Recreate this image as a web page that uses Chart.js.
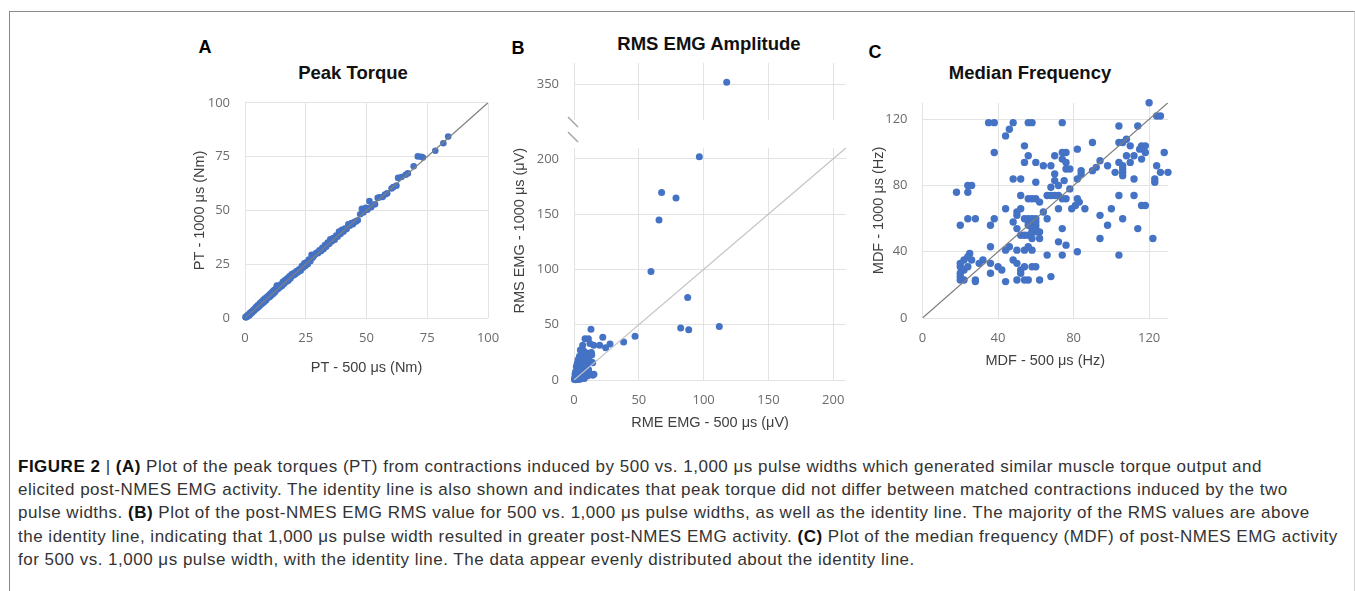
<!DOCTYPE html>
<html>
<head>
<meta charset="utf-8">
<script src="https://cdn.jsdelivr.net/npm/chart.js@4.4.0/dist/chart.umd.min.js"></script>
<style>
body{margin:0;background:#fff;width:1355px;height:591px;overflow:hidden;position:relative;font-family:"Liberation Sans",Arial,sans-serif}
.frame{position:absolute;left:9px;top:11px;width:1344px;height:700px;border-left:1px solid #8a8a8a;border-top:1px solid #8a8a8a;border-right:1px solid #d4d4d4}
canvas{position:absolute}
.lbl{position:absolute;font-weight:bold;font-size:18px;color:#000;transform:translate(-50%,-50%);line-height:1}
.ttl{position:absolute;font-weight:bold;font-size:18.5px;color:#111;white-space:nowrap;transform:translate(-50%,-50%);line-height:1}
.cap{position:absolute;left:18px;top:455px;font-size:17px;letter-spacing:0.5px;line-height:23.2px;color:#333;white-space:nowrap}
.cap b{color:#111}
</style>
</head>
<body>
<div class="frame"></div>

<div class="lbl" style="left:205px;top:47px">A</div>
<div class="lbl" style="left:518px;top:48px">B</div>
<div class="lbl" style="left:875px;top:52px">C</div>
<div class="ttl" style="left:353px;top:73px">Peak Torque</div>
<div class="ttl" style="left:709px;top:44px">RMS EMG Amplitude</div>
<div class="ttl" style="left:1030px;top:73px">Median Frequency</div>

<canvas id="chartA" width="332" height="298" style="left:180px;top:80px"></canvas>
<canvas id="chartB1" width="367" height="110" style="left:500px;top:40px"></canvas>
<canvas id="chartB2" width="367" height="310" style="left:500px;top:125px"></canvas>
<canvas id="chartC" width="333" height="293" style="left:855px;top:80px"></canvas>

<div class="cap">
<b>FIGURE 2</b> | <b>(A)</b> Plot of the peak torques (PT) from contractions induced by 500 vs. 1,000 μs pulse widths which generated similar muscle torque output and<br>
elicited post-NMES EMG activity. The identity line is also shown and indicates that peak torque did not differ between matched contractions induced by the two<br>
pulse widths. <b>(B)</b> Plot of the post-NMES EMG RMS value for 500 vs. 1,000 μs pulse widths, as well as the identity line. The majority of the RMS values are above<br>
the identity line, indicating that 1,000 μs pulse width resulted in greater post-NMES EMG activity. <b>(C)</b> Plot of the median frequency (MDF) of post-NMES EMG activity<br>
for 500 vs. 1,000 μs pulse width, with the identity line. The data appear evenly distributed about the identity line.
</div>

<script>
// ---- data: [500 us value, 1000 us value] ----
const peakTorque = [
  [0.2,0.4],[0.5,0.3],[0.8,1.0],[1.1,0.7],[1.3,1.5],[1.7,1.2],[2.0,2.3],[2.2,1.8],[2.6,2.9],[2.9,2.4],
  [3.3,3.6],[3.6,3.1],[4.0,4.4],[4.3,3.9],[4.7,5.3],[5.1,4.6],[5.4,6.0],[5.8,5.4],[6.2,6.9],[6.5,6.1],
  [6.9,7.6],[7.3,6.8],[7.6,8.4],[8.0,7.5],[8.3,9.1],[8.7,8.2],[9.1,9.9],[9.4,9.3],[9.8,10.6],[10.2,9.8],
  [10.5,11.4],[10.9,10.6],[11.3,12.3],[11.7,11.3],[12.0,13.0],[12.4,12.1],[12.8,13.8],[13.1,15.1],[13.5,13.4],[13.9,14.9],
  [14.3,14.2],[14.7,15.6],[15.2,14.9],[15.6,16.8],[16.0,15.8],[16.5,17.6],[16.9,16.7],[17.4,18.5],[17.8,17.3],[18.3,19.4],
  [18.7,18.4],[19.2,20.3],[19.7,19.6],[20.1,20.9],[20.6,20.2],[21.2,21.8],[21.7,21.1],[22.3,22.6],[22.9,22.0],[23.4,24.1],
  [23.9,23.3],[24.4,25.4],[24.8,24.2],[25.3,25.9],[25.8,25.0],[26.3,27.2],[26.9,26.4],[27.4,29.4],[27.8,28.0],[28.3,28.8],
  [28.9,29.6],[29.4,30.3],[30.0,30.1],[30.6,31.5],[31.2,31.0],[31.8,32.6],[32.3,32.0],[32.9,33.9],[33.4,33.1],[34.0,35.1],
  [34.6,34.4],[35.1,36.6],[35.7,35.6],[36.3,37.1],[36.9,36.4],[37.5,38.3],[38.1,37.8],[38.7,40.2],[39.3,39.0],[39.9,41.0],
  [40.5,40.1],[41.1,41.6],[41.8,41.3],[42.5,43.5],[43.1,42.9],[43.8,44.1],[44.4,43.6],[45.0,44.6],[45.7,44.9],[46.4,45.4],
  [47.4,48.2],[48.1,50.8],[48.7,49.0],[49.7,51.2],[50.4,50.3],[51.2,54.3],[51.9,51.5],[53.5,52.8],[54.6,55.8],[55.4,56.1],
  [56.6,56.2],[57.6,57.4],[58.5,57.9],[60.3,60.2],[61.0,60.8],[62.3,61.5],[63.0,65.1],[64.4,65.5],[66.1,66.6],[67.0,67.2],
  [69.4,70.5],[71.1,75.1],[72.5,74.9],[73.2,74.6],[78.3,77.7],[81.6,81.2],[83.6,84.3]
]
const rmsUpper = [[117.8,352]]
const rmsLower = [
  [96.7,202],[67.6,169.5],[78.7,164.7],[65.6,144.6],[59.4,98.2],[87.7,74.7],[82.3,47],[88.5,45.5],[112.1,48.4],
  [47.1,39.5],[38.3,34.4],[27.8,32.6],[24.4,29.2],[22.2,38.6],[19.8,31.5],[13.1,45.8],[15.2,31.5],[11.1,37.2],
  [8.5,37.2],[6.7,31.5],[12.3,33],[14.4,4.3],[13.7,22.9],[14.4,15.7],
  [5.9,24.3],[8.5,24.3],[11.1,24.3],[4.2,21.5],[6.5,22.0],[9.0,21.2],[3.1,18.4],[5.2,17.9],[7.6,18.6],[10.3,17.4],
  [2.5,15.1],[4.4,14.6],[6.9,15.5],[9.5,14.2],[12.4,15.9],[1.8,12.3],[3.6,11.8],[5.6,12.6],[8.2,11.5],[2.4,9.6],
  [4.1,9.1],[6.3,9.8],[9.4,8.9],[11.2,9.4],[1.2,7.4],[3.0,7.0],[5.0,7.6],[7.4,6.8],[0.8,5.2],[2.2,4.8],
  [3.8,5.4],[6.0,4.6],[8.3,5.1],[1.0,3.1],[2.6,2.7],[4.5,3.2],[6.8,2.5],[0.5,1.6],[1.6,1.2],[3.1,1.7],
  [5.3,1.1],[0.3,0.5],[1.2,0.3],[2.3,0.6],[4.0,0.4],[7.9,1.4],[10.2,3.6],[12.6,5.6],[9.8,12.8],[11.6,20.6],
  [13.4,24.8],[4.9,27.1],[7.7,26.0],[15.4,5.1],[13.7,16.1]
]
const medianFreq = [
  [120,130],[124,122],[126,122],[35,118],[38,118],[48,118],[56,118],[58,118],[74,118],[46,114],
  [44,110],[38,100],[104,116],[114,116],[54,104],[56,98],[54,94],[60,94],[70,98],[74,100],
  [76,100],[82,102],[90,106],[104,106],[106,106],[108,108],[110,104],[116,104],[118,104],[115,102],
  [118,100],[128,100],[74,96],[76,94],[76,90],[78,90],[68,92],[64,92],[70,87],[70,83],
  [75,83],[84,89],[84,87],[82,84],[90,89],[92,91],[94,95],[98,92],[102,88],[104,94],
  [106,92],[106,90],[106,88],[106,86],[108,98],[110,94],[112,98],[112,84],[116,96],[124,92],
  [126,88],[130,88],[123,84],[123,82],[48,84],[52,84],[60,82],[52,74],[56,72],[58,72],
  [60,72],[18,76],[24,80],[26,80],[24,76],[68,79],[72,80],
  [20,56],[24,60],[28,60],[36,56],[38,60],[44,66],[48,58],[50,54],[50,64],[50,62],
  [52,66],[54,60],[56,60],[58,60],[60,60],[56,58],[58,58],[60,58],[56,56],[58,56],
  [60,56],[58,54],[60,54],[64,64],[66,60],[52,50],[54,50],[56,50],[58,52],[60,52],
  [62,52],[58,48],[62,48],[74,54],[72,46],[76,44],[66,38],[74,38],[82,40],[94,48],
  [94,62],[98,56],[100,66],[106,60],[104,38],[114,54],[122,48],[116,68],[118,68],[72,66],
  [79,66],[81,68],[86,66],[62,70],[66,74],[68,74],[70,74],[72,74],[74,72],[76,72],
  [78,78],[82,72],[83,70],[104,74],[112,74],
  [25,39],[24,37],[22,35],[20,31],[22,29],[24,31],[20,27],[20,25],[20,23],[22,23],
  [28,23],[28,22],[30,33],[32,35],[36,33],[36,27],[40,31],[42,29],[44,22],[48,35],
  [50,33],[52,29],[52,27],[54,31],[50,23],[54,23],[56,23],[58,31],[60,31],[62,23],
  [68,25],[36,43],[44,41],[46,43],[50,41],[54,41],[56,43],[58,41],[20,33],[26,35]
]

// identity lines and axis ticks
const identityA = [0, 100]
const identityB = [0, 210]
const identityC = [0, 130]
const ticksA = [0, 25, 50, 75, 100]
const ticksB = [0, 50, 100, 150, 200]
const ticksBtop = [350]
const ticksC = [0, 40, 80, 120]

const blue = '#4472C4'
const gridCol = '#e3e3e3'
const tickCol = '#6b6b6b'
const titleCol = '#404040'
const tickFont = {family: '"Open Sans", sans-serif', size: 13}
const axTitleFont = {family: '"Liberation Sans", Arial, sans-serif', size: 14.5}

Chart.defaults.animation = false
Chart.defaults.plugins.legend.display = false
Chart.defaults.plugins.tooltip.enabled = false

const toPts = arr => arr.map(p => ({x: p[0], y: p[1]}))
const fixedTicks = list => s => { s.ticks = list.map(v => ({value: v})) }

// two small diagonal strokes marking the broken y axis in panel B
const breakMarks = {
  id: 'breakMarks',
  afterDraw(chart) {
    const {ctx, chartArea} = chart
    const l = chartArea.left, b = chartArea.bottom
    ctx.save()
    ctx.strokeStyle = '#a8a8a8'
    ctx.lineWidth = 1.5
    ctx.beginPath()
    ctx.moveTo(l - 6, b - 3); ctx.lineTo(l + 4, b + 7)
    ctx.moveTo(l - 6, b + 12); ctx.lineTo(l + 4, b + 22)
    ctx.stroke()
    ctx.restore()
  }
}

function scatter(id, c) {
  const datasets = []
  if (c.identity) {
    datasets.push({
      data: c.identity.map(v => ({x: v, y: v})),
      showLine: true, borderColor: c.lineColor, borderWidth: 1.2, pointRadius: 0
    })
  }
  datasets.push({data: toPts(c.points), backgroundColor: blue, borderWidth: 0, pointRadius: c.r, clip: false})

  return new Chart(document.getElementById(id), {
    type: 'scatter',
    data: {datasets},
    options: {
      responsive: false,
      layout: {padding: c.pad},
      scales: {
        x: {
          type: 'linear', min: c.xMin, max: c.xMax,
          afterBuildTicks: fixedTicks(c.xTicks),
          afterFit: s => { s.height = c.xH },
          grid: {color: gridCol, drawTicks: false},
          border: {display: false},
          ticks: {display: c.xLabels, font: tickFont, color: tickCol, padding: 12.8, maxRotation: 0},
          title: {display: !!c.xTitle, text: c.xTitle, font: axTitleFont, color: titleCol, padding: {top: 0, bottom: c.xTitlePad}}
        },
        y: {
          type: 'linear', min: c.yMin, max: c.yMax,
          afterBuildTicks: fixedTicks(c.yTicks),
          afterFit: s => { s.width = c.yW },
          grid: {color: gridCol, drawTicks: false},
          border: {display: false},
          ticks: {font: tickFont, color: tickCol, padding: 15},
          title: {display: !!c.yTitle, text: c.yTitle, font: axTitleFont, color: titleCol, align: c.yAlign || 'center', padding: {top: c.yTitlePad, bottom: 0}}
        }
      }
    },
    plugins: c.extra ? [c.extra] : []
  })
}

scatter('chartA', {
  points: peakTorque, identity: identityA, lineColor: '#7f7f7f', r: 3.3,
  xMin: 0, xMax: 100, yMin: 0, yMax: 100, xTicks: ticksA, yTicks: ticksA,
  pad: {top: 21, right: 20.5, bottom: 0, left: 0}, xH: 60, yW: 65, xLabels: true,
  xTitle: 'PT - 500 μs (Nm)', xTitlePad: 1.3, yTitle: 'PT - 1000 μs (Nm)', yTitlePad: 11.3
})

scatter('chartB1', {
  points: rmsUpper, r: 3.5,
  xMin: 0, xMax: 210, yMin: 317, yMax: 370, xTicks: ticksB, yTicks: ticksBtop,
  pad: {top: 18, right: 20.8, bottom: 30, left: 0}, xH: 0, yW: 74, xLabels: false,
  extra: breakMarks
})

scatter('chartB2', {
  points: rmsLower, identity: identityB, lineColor: '#c4c4c4', r: 3.5,
  xMin: 0, xMax: 210, yMin: 0, yMax: 210, xTicks: ticksB, yTicks: ticksB,
  pad: {top: 10.6, right: 20.8, bottom: 0, left: 0}, xH: 55, yW: 74, xLabels: true,
  xTitle: 'RME EMG - 500 μs (μV)', xTitlePad: 3.3, yTitle: 'RMS EMG - 1000 μs (μV)', yTitlePad: 11.3, yAlign: 'end'
})

scatter('chartC', {
  points: medianFreq, identity: identityC, lineColor: '#7f7f7f', r: 3.7,
  xMin: 0, xMax: 130, yMin: 0, yMax: 130, xTicks: ticksC, yTicks: ticksC,
  pad: {top: 21.5, right: 20, bottom: 0, left: 0}, xH: 55, yW: 67.5, xLabels: true,
  xTitle: 'MDF - 500 μs (Hz)', xTitlePad: 3.8, yTitle: 'MDF - 1000 μs (Hz)', yTitlePad: 15.3
})
</script>
</body>
</html>
